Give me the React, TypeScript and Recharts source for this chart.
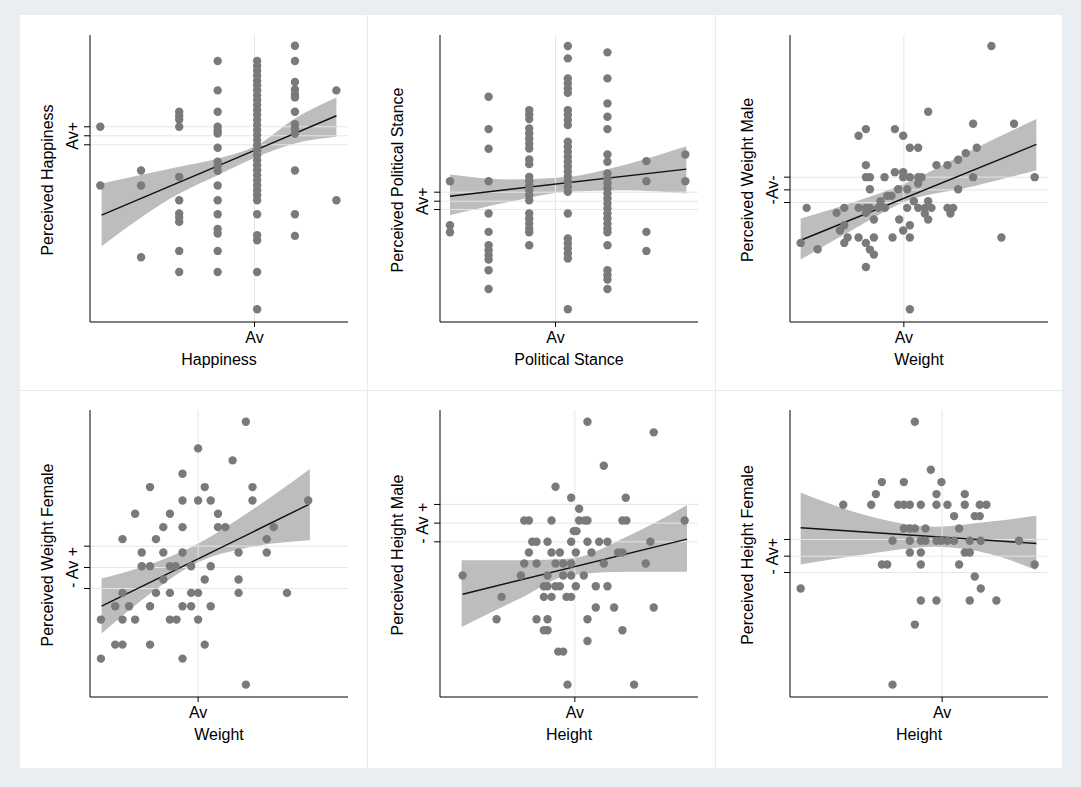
import React from "react"
import { ComposedChart, XAxis, YAxis, Scatter, Line, Area, ReferenceLine } from "recharts"

// Values are read off the reference in 3x zoom units; each panel is calibrated
// with its own axis extent and rescaled to 0..100 below.
type Pt = [number, number]
type Band = [number, number, number]

const titlesX = ["Happiness", "Political Stance", "Weight", "Weight", "Height", "Height"]
const titlesY = ["Perceived Happiness", "Perceived Political Stance", "Perceived Weight Male",
  "Perceived Weight Female", "Perceived Height Male", "Perceived Height Female"]
const midLabels = ["Av+", "Av+", "-Av-", "- Av +", "- Av +", "- Av+"]

// axis calibration: left, right
const axisX: [number, number][] = [[212, 990], [210, 985], [205, 980], [212, 990], [210, 985], [205, 980]]
const avX = [708, 557, 547, 538, 615, 662]
const refY: [number, number, number][] = [[374, 347, 320], [568, 543, 516], [547, 509, 471],
  [580, 517, 453], [440, 384, 328], [532, 483, 433]]

const col = (x: number, ys: number[]): Pt[] => ys.map(y => [x, y])

const happiness: Pt[] = [
  ...col(243, [320, 496]),
  ...col(366, [451, 496, 711]),
  ...col(481, [275, 287, 298, 320, 470, 540, 580, 592, 605, 692, 755]),
  ...col(597, [123, 211, 275, 320, 332, 340, 383, 425, 437, 452, 496, 540, 582, 626, 640, 692, 755]),
  ...col(716, [123, 138, 152, 167, 182, 196, 211, 226, 240, 255, 270, 285, 300, 315, 330, 345, 360, 375,
    390, 405, 420, 435, 450, 465, 480, 495, 510, 525, 540, 582, 645, 660, 755, 867]),
  ...col(830, [77, 123, 186, 208, 222, 232, 275, 312, 325, 340, 451, 582, 647]),
  ...col(955, [211, 540]),
]
const political: Pt[] = [
  ...col(240, [483, 615, 636]),
  ...col(356, [230, 327, 386, 483, 580, 635, 675, 690, 705, 718, 750, 806]),
  ...col(478, [270, 283, 297, 325, 340, 355, 370, 385, 418, 432, 470, 483, 497, 510, 525, 540, 580, 595, 610, 625, 636, 675]),
  ...col(594, [78, 115, 175, 190, 205, 218, 270, 285, 300, 315, 365, 380, 395, 410, 425, 440, 455, 470, 485,
    500, 515, 580, 655, 670, 685, 700, 715, 867]),
  ...col(713, [97, 175, 250, 290, 327, 403, 425, 460, 475, 490, 505, 520, 535, 550, 565, 580, 595, 610, 625,
    636, 675, 750, 765, 778, 806]),
  ...col(830, [423, 483, 635, 692]),
  ...col(947, [403, 483]),
]
const weightMale: Pt[] = [[810, 78], [620, 275], [433, 327], [411, 347], [520, 327], [545, 347], [755, 311], [878, 311],
  [565, 383], [590, 383], [766, 383], [733, 399], [710, 419], [678, 435], [645, 435], [433, 435], [433, 471], [445, 471],
  [489, 471], [520, 456], [545, 456], [545, 471], [565, 471], [590, 471], [600, 471], [590, 490], [755, 471], [940, 471],
  [445, 507], [530, 507], [557, 507], [710, 507], [497, 527], [510, 527], [477, 543], [577, 543], [620, 543], [255, 563],
  [345, 578], [368, 563], [411, 563], [433, 563], [445, 563], [433, 578], [470, 563], [490, 563], [557, 563], [590, 563],
  [610, 563], [630, 563], [610, 580], [620, 598], [678, 563], [695, 563], [687, 580], [457, 598], [533, 598], [565, 615],
  [545, 631], [355, 631], [368, 615], [378, 652], [368, 668], [411, 652], [457, 652], [513, 652], [565, 652], [433, 668],
  [445, 688], [457, 703], [288, 687], [237, 668], [433, 740], [840, 652], [565, 867]]
const weightFemale: Pt[] = [[682, 80], [538, 160], [642, 196], [491, 236], [393, 276], [558, 276], [702, 276], [491, 316],
  [538, 316], [576, 316], [702, 316], [870, 316], [348, 356], [453, 356], [598, 356], [433, 396], [491, 396], [598, 396],
  [620, 396], [766, 396], [310, 432], [411, 432], [745, 432], [368, 472], [433, 472], [491, 472], [660, 472], [745, 472],
  [368, 513], [393, 513], [453, 513], [470, 513], [517, 513], [576, 513], [433, 553], [558, 553], [660, 553], [310, 593],
  [411, 593], [453, 593], [517, 593], [538, 593], [660, 593], [806, 593], [288, 633], [330, 633], [393, 633], [491, 633],
  [517, 633], [576, 633], [245, 673], [310, 673], [348, 673], [453, 673], [473, 673], [538, 673], [288, 748], [310, 748],
  [393, 748], [558, 748], [245, 790], [491, 790], [682, 868]]
const heightMale: Pt[] = [[653, 80], [852, 112], [702, 212], [557, 275], [604, 308], [768, 308], [628, 341], [463, 376],
  [477, 376], [545, 376], [612, 408], [620, 408], [628, 376], [645, 376], [653, 376], [758, 376], [770, 376], [945, 376],
  [487, 440], [500, 440], [533, 440], [604, 440], [653, 440], [688, 440], [713, 440], [842, 440], [477, 472], [545, 472],
  [570, 472], [618, 472], [665, 472], [745, 472], [758, 472], [463, 505], [500, 505], [557, 505], [580, 505], [604, 505],
  [702, 505], [828, 505], [278, 541], [453, 541], [533, 541], [580, 541], [604, 541], [642, 541], [522, 573], [533, 573],
  [557, 573], [570, 573], [618, 573], [678, 573], [713, 573], [395, 605], [522, 605], [545, 605], [590, 605], [604, 605],
  [380, 672], [500, 672], [533, 672], [522, 705], [533, 705], [653, 672], [678, 637], [733, 637], [852, 637], [758, 705],
  [653, 737], [565, 769], [580, 769], [593, 868], [793, 868]]
const heightFemale: Pt[] = [[580, 80], [628, 224], [481, 261], [547, 261], [660, 261], [463, 297], [645, 297], [730, 297],
  [365, 329], [449, 329], [530, 329], [547, 329], [565, 329], [598, 329], [645, 329], [678, 329], [730, 329], [775, 329],
  [795, 329], [698, 363], [760, 363], [775, 363], [547, 400], [565, 400], [580, 400], [612, 400], [713, 400], [513, 437],
  [565, 437], [598, 437], [612, 437], [645, 437], [660, 437], [678, 437], [698, 437], [745, 437], [778, 437], [893, 437],
  [565, 472], [598, 472], [730, 472], [745, 472], [481, 508], [497, 508], [598, 508], [713, 508], [940, 508], [760, 544],
  [778, 580], [237, 580], [598, 616], [645, 616], [745, 616], [825, 616], [580, 688], [513, 868]]

const points = [happiness, political, weightMale, weightFemale, heightMale, heightFemale]

// fitted line ends
const fits: [Pt, Pt][] = [[[247, 585], [955, 287]], [[240, 528], [950, 447]], [[237, 660], [945, 373]],
  [[247, 633], [872, 328]], [[278, 597], [952, 432]], [[237, 398], [945, 445]]]
// confidence band: x, upper, lower
const bands: Band[][] = [
  [[247, 490, 678], [481, 440, 520], [597, 415, 465], [716, 375, 410], [830, 295, 370], [955, 232, 350]],
  [[240, 463, 585], [420, 478, 545], [594, 470, 515], [760, 435, 510], [950, 378, 520]],
  [[237, 595, 718], [400, 545, 625], [550, 490, 545], [750, 390, 500], [945, 297, 450]],
  [[247, 550, 715], [400, 505, 590], [520, 455, 510], [700, 345, 455], [875, 222, 435]],
  [[275, 495, 695], [450, 495, 610], [600, 490, 540], [780, 420, 530], [952, 330, 530]],
  [[237, 292, 508], [450, 365, 475], [640, 395, 455], [800, 380, 475], [945, 362, 525]],
]

const TOP = 45, BOTTOM = 905
const ny = (y: number) => ((BOTTOM - y) / (BOTTOM - TOP)) * 100

const PANEL_W = 350, PANEL_H = 360
const FONT = "'Liberation Sans', Arial, sans-serif"

function Panel({ i }: { i: number }) {
  const [l, r] = axisX[i]
  const nx = (x: number) => ((x - l) / (r - l)) * 100
  const scatter = points[i].map(([x, y]) => ({ x: nx(x), y: ny(y) }))
  const fit = fits[i].map(([x, y]) => ({ x: nx(x), y: ny(y) }))
  const band = bands[i].map(([x, hi, lo]) => ({ x: nx(x), range: [ny(lo), ny(hi)] }))
  const refs = refY[i].map(ny)
  const av = nx(avX[i])

  const yTick = (p: any) => {
    if (p.index !== 1) return <g />
    const x = p.x - 4
    return (
      <text x={x} y={p.y} transform={`rotate(-90, ${x}, ${p.y})`} textAnchor="middle"
        fontSize={16} fontFamily={FONT} fill="#000">{midLabels[i]}</text>
    )
  }
  const xTick = (p: any) => (
    <text x={p.x} y={p.y + 14} textAnchor="middle" fontSize={16} fontFamily={FONT} fill="#000">Av</text>
  )

  return (
    <div style={{ position: "relative", width: PANEL_W, height: PANEL_H }}>
      <ComposedChart width={PANEL_W} height={PANEL_H} margin={{ top: 15, right: 22, bottom: 0, left: 0 }}>
        <XAxis type="number" dataKey="x" domain={[0, 100]} ticks={[av]} tick={xTick}
          axisLine={{ stroke: "#000" }} tickLine={{ stroke: "#000" }} tickSize={5} height={58} allowDataOverflow />
        <YAxis type="number" dataKey="y" domain={[0, 100]} ticks={refs} tick={yTick} interval={0}
          axisLine={{ stroke: "#000" }} tickLine={{ stroke: "#000" }} tickSize={6} width={70} allowDataOverflow />
        {refs.map(v => <ReferenceLine key={v} y={v} stroke="#e6e6e6" />)}
        <ReferenceLine x={av} stroke="#e6e6e6" />
        <Area data={band} dataKey="range" type="monotone" stroke="none" fill="#bdbdbd" fillOpacity={1}
          isAnimationActive={false} />
        <Scatter data={scatter} fill="#7a7a7a" isAnimationActive={false}
          shape={(p: any) => <circle cx={p.cx} cy={p.cy} r={4.2} fill="#7a7a7a" />} />
        <Line data={fit} dataKey="y" stroke="#111" strokeWidth={1.4} dot={false} isAnimationActive={false} />
      </ComposedChart>
      <div style={{ position: "absolute", left: 70, width: 258, top: 331, textAlign: "center",
        fontFamily: FONT, fontSize: 16 }}>{titlesX[i]}</div>
      <div style={{ position: "absolute", left: 28, top: 160, width: 0, height: 0 }}>
        <div style={{ position: "absolute", transform: "translate(-50%, -50%) rotate(-90deg)", whiteSpace: "nowrap",
          fontFamily: FONT, fontSize: 16 }}>{titlesY[i]}</div>
      </div>
    </div>
  )
}

export default function App() {
  const origins: Pt[] = [[20, 20], [370, 20], [720, 20], [20, 395], [370, 395], [720, 395]]
  return (
    <div style={{ position: "absolute", left: 0, top: 0, width: 1081, height: 787, background: "#e8eef2" }}>
      <div style={{ position: "absolute", left: 20, top: 15, width: 1042, height: 753, background: "#fff" }} />
      <div style={{ position: "absolute", left: 367, top: 15, width: 1, height: 753, background: "#e6ebee" }} />
      <div style={{ position: "absolute", left: 715, top: 15, width: 1, height: 753, background: "#e6ebee" }} />
      <div style={{ position: "absolute", left: 20, top: 390, width: 1042, height: 1, background: "#e6ebee" }} />
      {origins.map(([x, y], i) => (
        <div key={i} style={{ position: "absolute", left: x, top: y }}>
          <Panel i={i} />
        </div>
      ))}
    </div>
  )
}
